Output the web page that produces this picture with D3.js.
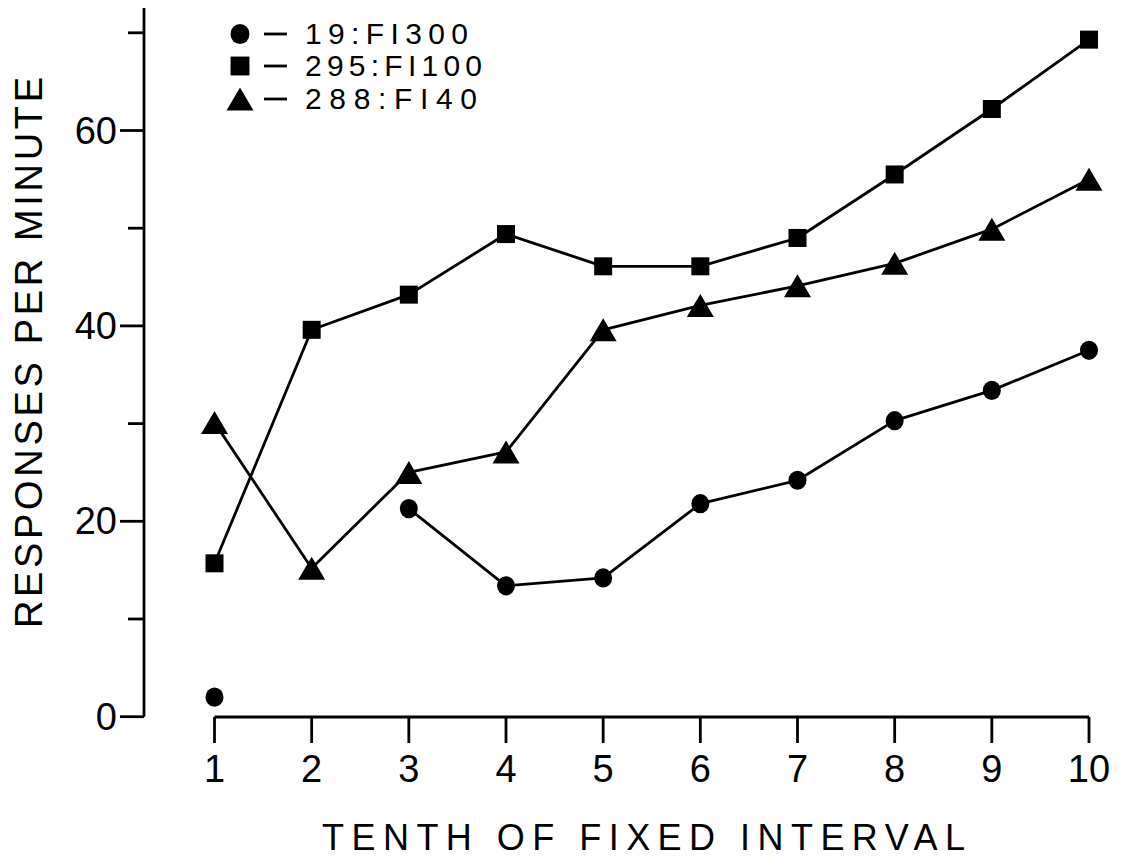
<!DOCTYPE html>
<html>
<head>
<meta charset="utf-8">
<script src="https://cdn.jsdelivr.net/npm/d3@7"></script>
<style>
  html, body { margin: 0; padding: 0; background: #fff; }
  svg { display: block; }
  text { font-family: "Liberation Sans", Arial, sans-serif; fill: #000; }
</style>
</head>
<body>
<svg id="chart" width="1123" height="859"></svg>
<script>
// Tenths of the fixed interval (x categories)
const tenths = [1, 2, 3, 4, 5, 6, 7, 8, 9, 10];
// Responses per minute for each bird / schedule (null = no point)
const fi300 = [2.0, null, 21.3, 13.4, 14.2, 21.8, 24.2, 30.3, 33.4, 37.5];
const fi100 = [15.7, 39.6, 43.2, 49.4, 46.1, 46.1, 49.0, 55.5, 62.2, 69.3];
const fi40  = [30.1, 15.2, 25.0, 27.1, 39.6, 42.1, 44.1, 46.4, 49.9, 55.0];
// Axis ticks
const yTicks = [0, 10, 20, 30, 40, 50, 60, 70];
const yTickLabels = { 0: "0", 20: "20", 40: "40", 60: "60" };
const xTickLabels = ["1", "2", "3", "4", "5", "6", "7", "8", "9", "10"];
// Legend entries
const legendLabels = ["19:FI300", "295:FI100", "288:FI40"];
const legendShapes = ["circle", "square", "triangle"];
const legendWidths = [163, 177, 172];

const svg = d3.select("#chart");
const x = d3.scaleLinear().domain([1, 10]).range([214.5, 1089]);
const y = d3.scaleLinear().domain([0, 70]).range([716.7, 32.8]);

const ink = "#000";
const sw = 2.8;

// ---- Y axis ----
const yAxis = svg.append("g");
yAxis.append("line")
  .attr("x1", 144).attr("x2", 144)
  .attr("y1", 8).attr("y2", y(0))
  .attr("stroke", ink).attr("stroke-width", sw);
yAxis.selectAll("line.tick").data(yTicks).join("line")
  .attr("class", "tick")
  .attr("x1", d => yTickLabels[d] !== undefined ? 120 : 128)
  .attr("x2", 144)
  .attr("y1", d => y(d)).attr("y2", d => y(d))
  .attr("stroke", ink).attr("stroke-width", sw);
yAxis.selectAll("text").data(yTicks.filter(d => yTickLabels[d] !== undefined)).join("text")
  .attr("x", 117).attr("y", d => y(d) + 13)
  .attr("text-anchor", "end")
  .attr("font-size", 38)
  .text(d => yTickLabels[d]);

// ---- X axis ----
const xAxis = svg.append("g");
xAxis.append("line")
  .attr("x1", x(1)).attr("x2", x(10))
  .attr("y1", 717).attr("y2", 717)
  .attr("stroke", ink).attr("stroke-width", sw);
xAxis.selectAll("line.tick").data(tenths).join("line")
  .attr("class", "tick")
  .attr("x1", d => x(d)).attr("x2", d => x(d))
  .attr("y1", 717).attr("y2", 743)
  .attr("stroke", ink).attr("stroke-width", sw);
xAxis.selectAll("text").data(tenths).join("text")
  .attr("x", d => x(d)).attr("y", 782)
  .attr("text-anchor", "middle")
  .attr("font-size", 38)
  .text((d, i) => xTickLabels[i]);

// ---- Axis titles ----
svg.append("text")
  .attr("x", 322).attr("y", 850)
  .attr("font-size", 36)
  .attr("textLength", 643).attr("lengthAdjust", "spacing")
  .text("TENTH OF FIXED INTERVAL");

svg.append("text")
  .attr("transform", "translate(42,628) rotate(-90)")
  .attr("font-size", 38)
  .attr("textLength", 551).attr("lengthAdjust", "spacing")
  .text("RESPONSES PER MINUTE");

// ---- Marker shapes ----
function marker(sel, shape, scale) {
  const k = scale || 1;
  if (shape === "circle") {
    sel.append("ellipse").attr("rx", 9 * k).attr("ry", 9.6 * k).attr("fill", ink);
  } else if (shape === "square") {
    sel.append("rect").attr("x", -9 * k).attr("y", -9 * k)
      .attr("width", 18 * k).attr("height", 18 * k).attr("fill", ink);
  } else {
    const w = 13.5 * k, h = 11.5 * k;
    sel.append("path").attr("d", `M0,${-h}L${w},${h}L${-w},${h}Z`).attr("fill", ink);
  }
}

// ---- Series ----
const series = [
  { values: fi300, shape: "circle" },
  { values: fi100, shape: "square" },
  { values: fi40, shape: "triangle" }
];

const line = d3.line()
  .defined(d => d.v !== null)
  .x(d => x(d.t))
  .y(d => y(d.v));

series.forEach(s => {
  const pts = tenths.map((t, i) => ({ t: t, v: s.values[i] }));
  svg.append("path")
    .datum(pts)
    .attr("d", line)
    .attr("fill", "none")
    .attr("stroke", ink)
    .attr("stroke-width", sw)
    .attr("stroke-linejoin", "round");
  svg.append("g").selectAll("g").data(pts.filter(p => p.v !== null)).join("g")
    .attr("transform", p => `translate(${x(p.t)},${y(p.v)})`)
    .each(function () { marker(d3.select(this), s.shape); });
});

// ---- Legend ----
const legendRowY = [34, 66, 99];
const legend = svg.append("g");
legendLabels.forEach((lab, i) => {
  const g = legend.append("g").attr("transform", `translate(0,${legendRowY[i]})`);
  const m = g.append("g").attr("transform", "translate(240,0)");
  marker(m, legendShapes[i], i === 2 ? 1.0 : 1.05);
  g.append("line").attr("x1", 264).attr("x2", 287).attr("y1", 0).attr("y2", 0)
    .attr("stroke", ink).attr("stroke-width", sw);
  g.append("text").attr("x", 305).attr("y", 10)
    .attr("font-size", 30)
    .attr("textLength", legendWidths[i]).attr("lengthAdjust", "spacing")
    .text(lab);
});
</script>
</body>
</html>
